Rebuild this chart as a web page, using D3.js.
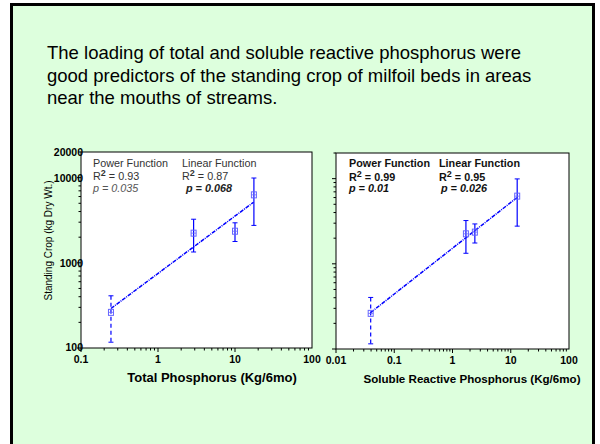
<!DOCTYPE html>
<html><head><meta charset="utf-8">
<script src="https://cdn.jsdelivr.net/npm/d3@7/dist/d3.min.js"></script>
<style>
html,body{margin:0;padding:0;background:#fff;}
svg{display:block;font-family:"Liberation Sans",Arial,sans-serif;}
</style></head>
<body>
<svg id="c" width="600" height="444"></svg>
<script>
// ---- data ----
const titleLines = [
  "The loading of total and soluble reactive phosphorus were",
  "good predictors of the standing crop of milfoil beds in areas",
  "near the mouths of streams."
];
const totalP      = [0.245, 2.9, 10, 17.6];
const totalCrop   = [262, 2230, 2350, 6280];
const totalHi     = [410, 3250, 2950, 9900];
const totalLo     = [117, 1340, 1780, 2750];
const totalFit    = [[0.245, 291], [17.4, 5140]];

const srp         = [0.0394, 1.70, 2.42, 12.9];
const srpCrop     = [262, 2250, 2355, 6230];
const srpHi       = [403, 3220, 2940, 9930];
const srpLo       = [115, 1330, 1755, 2770];
const srpFit      = [[0.0394, 268], [12.7, 5970]];

const leftXTicks  = [0.1, 1, 10, 100];
const rightXTicks = [0.01, 0.1, 1, 10, 100];
const yTicks      = [100, 1000, 10000, 20000];

const svg = d3.select("#c");
svg.append("rect").attr("x",0).attr("y",0).attr("width",600).attr("height",444).attr("fill","#fff");
svg.append("rect").attr("x",11.5).attr("y",4.5).attr("width",582).attr("height",445)
  .attr("fill","#ddffdd").attr("stroke","#000").attr("stroke-width",3);

const tt = svg.append("text").attr("font-size",18.5).attr("fill","#000");
titleLines.forEach((l,i)=>tt.append("tspan").attr("x",47).attr("y",59+i*22.5).text(l));

function panel(opt){
  const x = d3.scaleLog().domain(opt.xd).range([opt.x0,opt.x1]);
  const y = d3.scaleLog().domain([100,20000]).range([opt.y1,opt.y0]);
  const g = svg.append("g");
  g.append("rect").attr("x",opt.x0).attr("y",opt.y0).attr("width",opt.x1-opt.x0).attr("height",opt.y1-opt.y0)
    .attr("fill","#fff").attr("stroke","#000").attr("stroke-width",1);
  const [a,b] = opt.xd.map(Math.log10);
  for(let e=a;e<b;e++){
    for(let m=1;m<10;m++){
      const v=Math.pow(10,e)*m, px=x(v);
      g.append("line").attr("x1",px).attr("x2",px).attr("y1",opt.y1).attr("y2",opt.y1+(m===1?4:2.5))
        .attr("stroke","#000").attr("stroke-width",1);
    }
  }
  for(let e=2;e<5;e++){
    for(let m=1;m<10;m++){
      const v=Math.pow(10,e)*m; if(v>20000) break;
      const py=y(v);
      g.append("line").attr("x1",opt.x0).attr("x2",opt.x0-(m===1?4:2.5)).attr("y1",py).attr("y2",py)
        .attr("stroke","#000").attr("stroke-width",1);
    }
  }
  opt.xt.forEach(v=>{
    g.append("text").attr("x",x(v)).attr("y",opt.y1+opt.xtdy).attr("text-anchor","middle")
      .attr("font-size",10.5).attr("font-weight","bold").text(String(v));
  });
  if(opt.ylabels){
    yTicks.forEach(v=>{
      g.append("text").attr("x",opt.x0+2).attr("y",y(v)+(v===100?2.5:4)).attr("text-anchor","end")
        .attr("font-size",10.5).attr("font-weight","bold").text(String(v));
    });
    g.append("text").attr("transform",`translate(${opt.x0-29},240.5) rotate(-90)`)
      .attr("text-anchor","middle").attr("font-size",10).text("Standing Crop  (kg Dry Wt.)");
  }
  g.append("text").attr("x",opt.xlx).attr("y",opt.xly).attr("text-anchor","middle")
    .attr("font-size",opt.xls).attr("font-weight","bold").text(opt.xlabel);
  const line = d3.line().x(d=>x(d[0])).y(d=>y(d[1]));
  g.append("path").attr("d",line(opt.fit)).attr("stroke","#0000ff").attr("stroke-width",1.5)
    .attr("fill","none").attr("stroke-dasharray","4,1,1,1");
  opt.xs.forEach((xv,i)=>{
    const px=x(xv);
    const dash = i===0 ? "4,3" : null;
    g.append("line").attr("x1",px).attr("x2",px).attr("y1",y(opt.hi[i])).attr("y2",y(opt.lo[i]))
      .attr("stroke","#0000ff").attr("stroke-width",1.2).attr("stroke-dasharray",dash);
    [opt.hi[i],opt.lo[i]].forEach(v=>g.append("line").attr("x1",px-2.5).attr("x2",px+2.5)
      .attr("y1",y(v)).attr("y2",y(v)).attr("stroke","#0000ff").attr("stroke-width",1));
    const py=y(opt.ys[i]);
    g.append("rect").attr("x",px-2.5).attr("y",py-3).attr("width",5).attr("height",6)
      .attr("fill","none").attr("stroke","#6666ff").attr("stroke-width",1);
    g.append("line").attr("x1",px-2.5).attr("x2",px+2.5).attr("y1",py).attr("y2",py)
      .attr("stroke","#6666ff").attr("stroke-width",0.8);
  });
  opt.ann.forEach(t=>{
    const tx = g.append("text").attr("x",t.x).attr("y",t.y).attr("font-size",10.8)
      .attr("font-weight",t.b?"bold":"normal").attr("font-style",t.i?"italic":"normal").attr("fill",t.c||"#222");
    if(t.sup){
      tx.append("tspan").text("R");
      tx.append("tspan").attr("dy",-4).attr("font-size",9).attr("font-weight","bold").text("2");
      tx.append("tspan").attr("dy",4).text(t.text);
    } else tx.text(t.text);
  });
}

panel({x0:81,x1:312,y0:152,y1:348,xd:[0.1,100],xt:leftXTicks,ylabels:true,xtdy:14.5,
  xlabel:"Total Phosphorus (Kg/6mo)",xlx:212,xly:382,xls:13,
  xs:totalP,ys:totalCrop,hi:totalHi,lo:totalLo,fit:totalFit,
  ann:[
    {x:93,y:167,text:"Power Function",c:"#333"},
    {x:93,y:180,text:" = 0.93",sup:true,c:"#333"},
    {x:93,y:191.5,text:"p = 0.035",i:true,c:"#555"},
    {x:182,y:167,text:"Linear Function",c:"#333"},
    {x:182,y:180,text:" = 0.87",sup:true,c:"#333"},
    {x:186,y:192,text:"p = 0.068",i:true,b:true,c:"#222"}
  ]});

panel({x0:336,x1:569,y0:153,y1:349,xd:[0.01,100],xt:rightXTicks,ylabels:false,xtdy:15,
  xlabel:"Soluble Reactive Phosphorus  (Kg/6mo)",xlx:472,xly:383,xls:11.6,
  xs:srp,ys:srpCrop,hi:srpHi,lo:srpLo,fit:srpFit,
  ann:[
    {x:349,y:167,text:"Power Function",b:true,c:"#111"},
    {x:349,y:181,text:" = 0.99",sup:true,b:true,c:"#111"},
    {x:349,y:192,text:"p = 0.01",b:true,i:true,c:"#111"},
    {x:439,y:167,text:"Linear Function",b:true,c:"#111"},
    {x:439,y:181,text:" = 0.95",sup:true,b:true,c:"#111"},
    {x:441,y:192,text:"p = 0.026",b:true,i:true,c:"#111"}
  ]});
</script>
</body></html>
